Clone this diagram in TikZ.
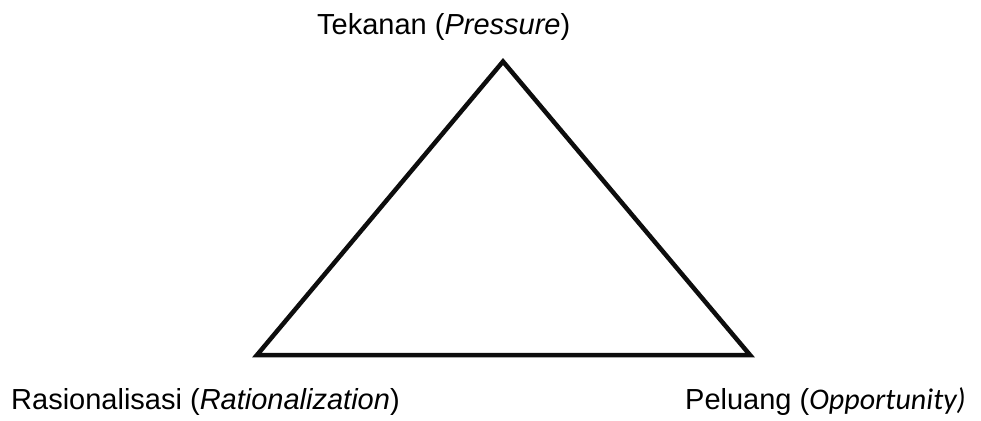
\documentclass[tikz,border=0pt]{standalone}
\usepackage{fontspec}
\setmainfont{Liberation Sans}
\newfontfamily\carlito{Carlito}
\begin{document}
\begin{tikzpicture}[x=1pt,y=1pt,
  lbl/.style={anchor=base west,inner sep=0pt,font=\fontsize{29}{34}\selectfont},
  tri/.style={draw=black!95,line width=4.5pt}]
\useasboundingbox (0,0) rectangle (981,-420);
\coordinate (P) at (503,-61.5);
\coordinate (R) at (257,-355);
\coordinate (O) at (750,-355);
\draw[tri] (P) -- (R) -- (O) -- cycle;
\node[lbl] (tP) at (317,-35) {Tekanan (\textit{Pressure})};
\node[lbl] (tR) at (11,-409) {Rasionalisasi (\textit{Rationalization})};
\node[lbl] (tO) at (685,-409) {Peluang ({\carlito\itshape\fontsize{30}{34}\selectfont Opportunity)}};
\end{tikzpicture}
\end{document}
